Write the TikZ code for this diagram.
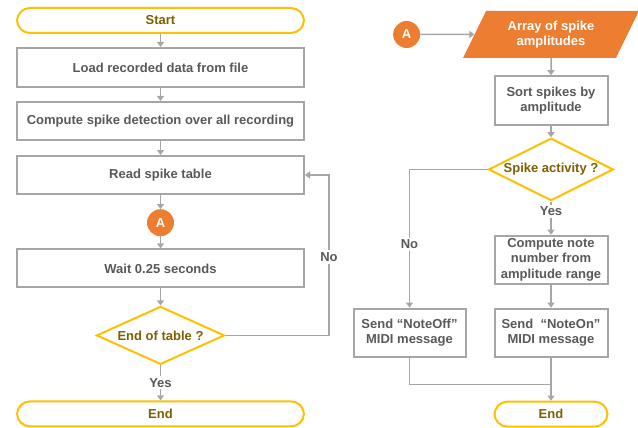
\documentclass[tikz,border=0pt]{standalone}
\usepackage{fontspec}
\setmainfont{Liberation Sans}
\usepackage{tikz}
\usetikzlibrary{positioning,shapes.geometric,arrows.meta}
\definecolor{boxgray}{HTML}{A6A6A6}
\definecolor{txtgray}{HTML}{595959}
\definecolor{gold}{HTML}{FFC000}
\definecolor{goldtxt}{HTML}{7F6000}
\definecolor{orng}{HTML}{ED7D31}
\newcommand{\flowfont}{\bfseries\fontsize{13}{15.5}\selectfont}
\tikzset{stepnode/.style={rectangle, draw=boxgray, line width=2pt, fill=white, text=txtgray, font=\flowfont, align=center, inner ysep=2pt},
termnode/.style={rectangle, rounded corners=13pt, draw=gold, line width=2pt, fill=white, text=goldtxt, font=\flowfont, minimum height=25pt},
decnode/.style={diamond, aspect=2.2, draw=gold, line width=2pt, fill=white, text=goldtxt, font=\flowfont, inner sep=1pt, minimum width=128pt, minimum height=58pt},
connnode/.style={circle, fill=orng, text=white, font=\flowfont, minimum size=27pt, inner sep=0pt},
datanode/.style={trapezium, trapezium left angle=62, trapezium right angle=118, trapezium stretches=true, fill=orng, text=white, font=\flowfont, align=center, minimum width=176pt, minimum height=47pt, inner sep=1pt},
lbl/.style={fill=white, text=txtgray, font=\flowfont, inner sep=2pt},
flowline/.style={draw=boxgray, line width=1.5pt},
arr/.style={flowline, -{Triangle[width=7pt,length=5pt]}},}

\begin{document}
\begin{tikzpicture}[x=1pt, y=-1pt]
\useasboundingbox (0,0) rectangle (638,428);
% left column
\node [termnode, minimum width=287pt] (start) at (160.5,20.5) {Start};
\node [stepnode, minimum width=287pt, minimum height=39pt] (load) [below=13pt of start] {Load recorded data from file};
\node [stepnode, minimum width=287pt, minimum height=38pt] (detect) [below=13pt of load] {Compute spike detection over all recording};
\node [stepnode, minimum width=287pt, minimum height=38pt] (read) [below=14pt of detect] {Read spike table};
\node [connnode] (conna) [below=14pt of read] {A};
\node [stepnode, minimum width=287pt, minimum height=38pt] (wait) [below=12pt of conna] {Wait 0.25 seconds};
\node [decnode] (tabend) [below=17pt of wait] {End of table ?};
\node [termnode, minimum width=287pt] (endl) [below=35pt of tabend] {End};
\coordinate (noturn) at (329,257);
\draw[arr] (start) -- (load);
\draw[arr] (load) -- (detect);
\draw[arr] (detect) -- (read);
\draw[arr] (read) -- (conna);
\draw[arr] (conna) -- (wait);
\draw[arr] (wait) -- (tabend);
\draw[arr] (tabend) -- node[lbl] (yesl) {Yes} (endl);
\draw[arr] (tabend.east) -| (noturn) |- (read.east);
\node [lbl] (nol) at (noturn) {No};
% right column
\node [datanode] (spikes) at (551,34.5) {Array of spike\\amplitudes};
\node [connnode] (connb) [left=54pt of spikes] {A};
\node [stepnode, minimum width=113pt, minimum height=49pt] (sort) [below=17pt of spikes] {Sort spikes by\\amplitude};
\node [decnode, minimum width=123pt, aspect=2] (activity) [below=11pt of sort] {Spike activity ?};
\node [stepnode, minimum width=113pt, minimum height=48pt] (note) [below=33pt of activity] {Compute note\\number from\\amplitude range};
\node [stepnode, minimum width=113pt, minimum height=48pt] (noteon) [below=23pt of note] {Send ~``NoteOn''\\MIDI message};
\node [stepnode, minimum width=112pt, minimum height=48pt] (noteoff) [left=27pt of noteon] {Send ``NoteOff''\\MIDI message};
\node [termnode, minimum width=113pt] (endr) [below=43pt of noteon] {End};
\coordinate [below=27pt of noteoff.south] (offdrop);
\draw[arr] (connb) -- (spikes);
\draw[arr] (spikes) -- (sort);
\draw[arr] (sort) -- (activity);
\draw[arr] (activity) -- node[lbl, pos=0.3] (yesr) {Yes} (note);
\draw[arr] (note) -- (noteon);
\draw[arr] (activity.west) -| node[lbl, pos=0.77] (nor) {No} (noteoff.north);
\draw[arr] (noteon) -- (endr);
\draw[flowline] (noteoff.south) |- (offdrop -| noteon.south);
\end{tikzpicture}
\end{document}
